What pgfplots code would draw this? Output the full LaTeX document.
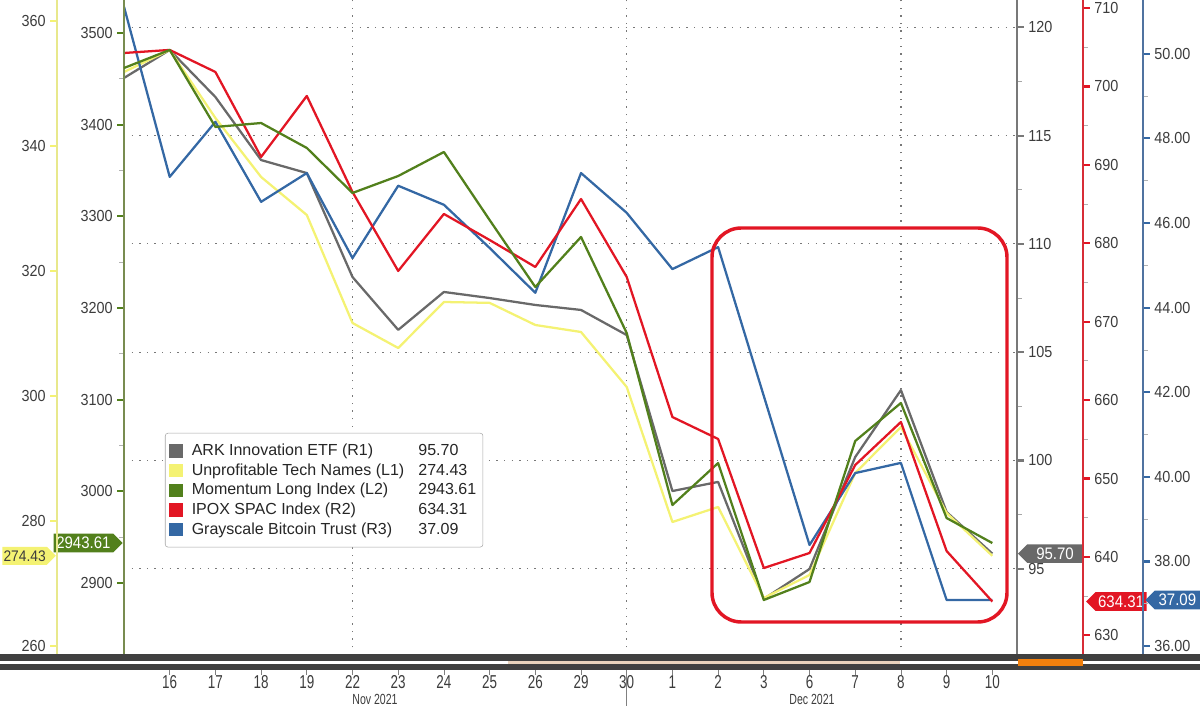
\documentclass[border=0pt]{standalone}
\usepackage{fontspec}
\setmainfont{Liberation Sans}
\newfontfamily\tickfont{Liberation Sans}[FakeStretch=0.9]
\newfontfamily\xfont{Liberation Sans}[FakeStretch=0.72]
\usepackage{pgfplots}
\pgfplotsset{compat=1.18}
\usepackage{pgfplotstable}
\usetikzlibrary{shapes.symbols}

\definecolor{arkgray}{RGB}{105,105,105}
\definecolor{unpyel}{RGB}{244,242,115}
\definecolor{momgreen}{RGB}{82,128,28}
\definecolor{spacred}{RGB}{226,22,36}
\definecolor{gbtcblue}{RGB}{52,104,164}
\definecolor{labtext}{RGB}{60,60,60}
\definecolor{gridcol}{RGB}{120,120,120}
\definecolor{r1line}{RGB}{120,120,120}
\definecolor{l1line}{RGB}{232,232,140}
\definecolor{l2line}{RGB}{120,140,80}
\definecolor{r2line}{RGB}{215,45,55}
\definecolor{r3line}{RGB}{80,115,160}

\tikzset{
  tag/.style={signal, font=\tickfont\fontsize{12.5}{12.5}\selectfont,
    inner xsep=2pt, inner ysep=2.6pt, minimum height=13.5pt},
}
\pgfplotsset{
  panel/.style={scale only axis, width=669.75pt, height=491.25pt,
    at={(93pt,38.25pt)}, anchor=south west, xmin=0, xmax=19.54},
  lab/.style={/pgf/number format/assume math mode=true,
    /pgf/number format/1000 sep={},
    yticklabel style={font=\tickfont\fontsize{12}{12}\selectfont, text=labtext},
    tick align=outside, major tick length=5pt, minor tick length=3.5pt},
  series/.style={line width=1.7pt, line join=round},
}

% ARK Innovation ETF (R1)
\pgfplotstableread{
i val
0 117.66
1 118.95
2 116.78
3 113.87
4 113.27
5 108.47
6 106.03
7 107.78
8 107.50
9 107.18
10 106.95
11 105.79
12 98.59
13 99.01
14 93.61
15 94.99
16 100.16
17 103.25
18 97.62
19 95.70
}\arkdata
% Unprofitable Tech Names (L1)
\pgfplotstableread{
i val
0 351.84
1 355.36
2 344.48
3 335.04
4 328.96
5 311.68
6 307.68
7 315.04
8 314.90
9 311.36
10 310.24
11 301.44
12 279.84
13 282.24
14 267.68
15 271.36
16 287.68
17 295.04
18 281.28
19 274.43
}\unpdata
% Momentum Long Index (L2)
\pgfplotstableread{
i val
0 3461.8
1 3481.5
2 3397.5
3 3401.8
4 3374.6
5 3325.5
6 3344.0
7 3370.2
8 3296.0
9 3222.9
10 3277.5
11 3172.7
12 2985.1
13 3030.9
14 2881.5
15 2901.1
16 3054.9
17 3096.4
18 2970.9
19 2943.61
}\momdata
% IPOX SPAC Index (R2)
\pgfplotstableread{
i val
0 704.27
1 704.66
2 701.85
3 691.01
4 698.79
5 686.54
6 676.47
7 683.74
8 680.42
9 676.98
10 685.65
11 675.70
12 657.84
13 655.04
14 638.58
15 640.50
16 651.72
17 657.21
18 640.75
19 634.31
}\spacdata
% Grayscale Bitcoin Trust (R3)
\pgfplotstableread{
i val
0 51.11
1 47.09
2 48.39
3 46.50
4 47.18
5 45.17
6 46.88
7 46.43
8 45.41
9 44.35
10 47.18
11 46.24
12 44.91
13 45.43
14 41.91
15 38.39
16 40.09
17 40.33
18 37.09
19 37.09
}\gbtcdata

\newcommand{\legsw}[1]{\addlegendimage{legend image code/.code={\fill[#1, sharp corners] (0pt,-4.6pt) rectangle (9.5pt,4.6pt);}}}

\begin{document}
\begin{tikzpicture}

% ---------- Axis A: ARK (R1), grid, x labels, legend ----------
\begin{axis}[panel, lab, clip=false, ymin=91.02, ymax=121.26,
  axis x line*=bottom, axis y line*=right,
  x axis line style={draw=none},
  y axis line style={draw=r1line, line width=0.8pt},
  xtick={1,...,19},
  xticklabels={16,17,18,19,22,23,24,25,26,29,30,1,2,3,6,7,8,9,10},
  major x tick style={draw=gray, line width=0.6pt, yshift=-9.75pt},
  xticklabel style={font=\xfont\fontsize{14}{14}\selectfont, text=labtext, anchor=center, inner sep=0pt, yshift=-15.5pt},
  ytick={95,100,...,120}, minor y tick num=1,
  major y tick style={draw=r1line, line width=1.6pt},
  minor y tick style={draw=gray!70, line width=0.6pt},
  ymajorgrids,
  major grid style={draw=gridcol, line width=0.9pt, dash pattern=on 1.1pt off 4.6pt},
  extra x ticks={5,11,17}, extra x tick labels={},
  extra x tick style={grid=major, major tick length=0pt},
  legend style={at={(0.0459,0.339)}, anchor=north west, draw=gray!70,
    rounded corners=2pt, fill=white, font=\fontsize{12}{12}\selectfont,
    inner xsep=3pt, inner ysep=6pt, row sep=0.6pt, nodes={inner sep=2pt, text=black!85}},
  legend cell align=left,
]
\addplot[series, arkgray, forget plot] table[x=i, y=val] {\arkdata};
\legsw{arkgray}
\addlegendentry{\hspace*{5pt}\makebox[170pt][l]{ARK Innovation ETF (R1)}95.70}
\legsw{unpyel}
\addlegendentry{\hspace*{5pt}\makebox[170pt][l]{Unprofitable Tech Names (L1)}274.43}
\legsw{momgreen}
\addlegendentry{\hspace*{5pt}\makebox[170pt][l]{Momentum Long Index (L2)}2943.61}
\legsw{spacred}
\addlegendentry{\hspace*{5pt}\makebox[170pt][l]{IPOX SPAC Index (R2)}634.31}
\legsw{gbtcblue}
\addlegendentry{\hspace*{5pt}\makebox[170pt][l]{Grayscale Bitcoin Trust (R3)}37.09}
\node[tag, signal to=west, fill=arkgray, text=white, anchor=west, minimum width=48.5pt, xshift=0.5pt]
  at (axis cs:19.54,95.70) {95.70};
\end{axis}

% ---------- Axis D: Unprofitable Tech (L1) data ----------
\begin{axis}[panel, hide axis, ymin=258.56, ymax=363.36]
\addplot[series, unpyel] table[x=i, y=val] {\unpdata};
\end{axis}

% ---------- Axis C: Grayscale (R3) data ----------
\begin{axis}[panel, hide axis, ymin=35.79, ymax=51.27]
\addplot[series, gbtcblue] table[x=i, y=val] {\gbtcdata};
\end{axis}

% ---------- Axis B: IPOX SPAC (R2) data ----------
\begin{axis}[panel, hide axis, ymin=627.49, ymax=711.03]
\addplot[series, spacred] table[x=i, y=val] {\spacdata};
\end{axis}

% ---------- Axis E: Momentum (L2) data + left axis ----------
\begin{axis}[panel, lab, clip=false, ymin=2821.5, ymax=3536,
  axis y line*=left, axis x line=none,
  y axis line style={draw=l2line, line width=0.8pt},
  ytick={2900,3000,...,3500}, minor y tick num=1,
  major y tick style={draw=momgreen, line width=1.6pt},
  minor y tick style={draw=gray!60, line width=0.6pt},
]
\addplot[series, momgreen] table[x=i, y=val] {\momdata};
\node[tag, signal to=east, fill=momgreen, text=white, anchor=east, minimum width=47pt, xshift=-0.8pt]
  at (axis cs:0,2943.61) {2943.61};
\end{axis}

% ---------- L1 axis stub ----------
\begin{axis}[lab, clip=false, scale only axis, width=50.25pt, height=491.25pt,
  at={(42.75pt,38.25pt)}, anchor=south west, xmin=0, xmax=1,
  ymin=258.56, ymax=363.36,
  axis y line*=left, axis x line=none,
  y axis line style={draw=l1line, line width=0.9pt},
  ytick={260,280,...,360},
  major y tick style={draw=unpyel, line width=1.4pt},
]
\node[tag, signal to=east, fill=unpyel, text=labtext, anchor=east, minimum width=39pt,
  inner xsep=0.8pt, font=\tickfont\fontsize{11.5}{11.5}\selectfont, xshift=-0.6pt]
  at (axis cs:0,274.43) {274.43};
\end{axis}

% ---------- R2 axis stub ----------
\begin{axis}[lab, clip=false, scale only axis, width=49.5pt, height=491.25pt,
  at={(762.75pt,38.25pt)}, anchor=south west, xmin=0, xmax=1,
  ymin=627.49, ymax=711.03,
  axis y line*=right, axis x line=none,
  y axis line style={draw=r2line, line width=0.8pt},
  ytick={630,640,...,710}, minor y tick num=1,
  major y tick style={draw=spacred, line width=1.6pt},
  minor y tick style={draw=gray!60, line width=0.6pt},
]
\node[tag, signal to=west, fill=spacred, text=white, anchor=west, minimum width=42pt, xshift=2pt]
  at (axis cs:1,634.31) {634.31};
\end{axis}

% ---------- R3 axis stub ----------
\begin{axis}[lab, clip=false, scale only axis, width=45pt, height=491.25pt,
  at={(812.25pt,38.25pt)}, anchor=south west, xmin=0, xmax=1,
  ymin=35.79, ymax=51.27,
  axis y line*=right, axis x line=none,
  y axis line style={draw=r3line, line width=0.8pt},
  ytick={36,38,...,50}, minor y tick num=1,
  yticklabel style={/pgf/number format/.cd, fixed, fixed zerofill, precision=2},
  major y tick style={draw=gbtcblue, line width=1.6pt},
  minor y tick style={draw=gray!60, line width=0.6pt},
]
\node[tag, signal to=west, fill=gbtcblue, text=white, anchor=west, minimum width=41pt, xshift=1.5pt]
  at (axis cs:1,37.09) {37.09};
\end{axis}

% ---------- highlight box ----------
\draw[spacred, line width=2.6pt, rounded corners=22pt] (534pt,63pt) rectangle (755.25pt,358.5pt);

% ---------- bottom scroll bar ----------
\fill[black!75] (0pt,33.75pt) rectangle (900pt,39pt);
\fill[black!75] (0pt,27pt) rectangle (900pt,31.5pt);
\fill[white] (96pt,31.5pt) rectangle (381pt,33.75pt);
\fill[brown!35] (381pt,31.5pt) rectangle (675pt,33.75pt);
\fill[orange!80!brown] (763.5pt,30pt) rectangle (812.25pt,35pt);
\draw[gray, line width=0.5pt] (469.5pt,0pt) -- (469.5pt,27pt);
\node[anchor=north, inner sep=0pt, font=\xfont\fontsize{11}{11}\selectfont, text=labtext] at (281.25pt,9pt) {Nov 2021};
\node[anchor=north, inner sep=0pt, font=\xfont\fontsize{11}{11}\selectfont, text=labtext] at (609pt,9pt) {Dec 2021};

\pgfresetboundingbox
\path[use as bounding box] (0pt,0pt) rectangle (900pt,529.5pt);
\end{tikzpicture}
\end{document}
